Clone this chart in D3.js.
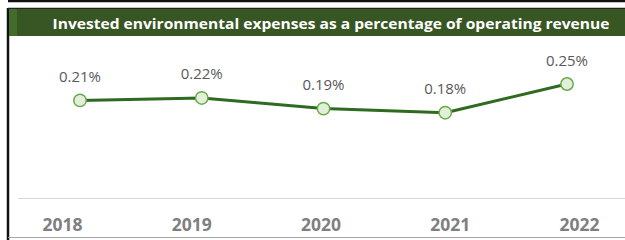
<!DOCTYPE html>
<html>
<head>
<meta charset="utf-8">
<script src="https://cdn.jsdelivr.net/npm/d3@7"></script>
<style>
  html, body { margin: 0; padding: 0; background: #fff; }
  svg { display: block; font-family: 'Open Sans', sans-serif; }
</style>
</head>
<body>
<svg width="625" height="240"></svg>
<script>
const years = ['2018', '2019', '2020', '2021', '2022'];
const values = [0.21, 0.216, 0.19, 0.18, 0.25]; // % of operating revenue
const title = 'Invested environmental expenses as a percentage of operating revenue';

const svg = d3.select('svg');
const width = +svg.attr('width');
const height = +svg.attr('height');

const data = years.map((y, i) => ({ year: y, value: values[i] }));

// frame
svg.append('line')
    .attr('x1', 8).attr('x2', width).attr('y1', 1).attr('y2', 1)
    .attr('stroke', '#111').attr('stroke-width', 2.5);
svg.append('line')
    .attr('x1', 8).attr('x2', 8).attr('y1', 8).attr('y2', height)
    .attr('stroke', '#111').attr('stroke-width', 2.5);
svg.append('line')
    .attr('x1', 8).attr('x2', width).attr('y1', 8.5).attr('y2', 8.5)
    .attr('stroke', '#222').attr('stroke-width', 1.5);
svg.append('line')
    .attr('x1', 8).attr('x2', width).attr('y1', 237.5).attr('y2', 237.5)
    .attr('stroke', '#a6a6a6').attr('stroke-width', 1.2);

// title band
svg.append('rect')
    .attr('x', 9).attr('y', 9).attr('width', width - 9).attr('height', 27)
    .attr('fill', '#375623');
svg.append('rect')
    .attr('x', 9).attr('y', 9).attr('width', 8).attr('height', 27)
    .attr('fill', '#426b2c');
svg.append('text')
    .attr('x', 331).attr('y', 28.5)
    .attr('text-anchor', 'middle')
    .attr('fill', '#fff')
    .attr('font-size', 15)
    .attr('font-weight', 700)
    .attr('textLength', 557)
    .attr('lengthAdjust', 'spacingAndGlyphs')
    .text(title);

// scales
const x = d3.scalePoint().domain(years).range([80, 567]);
const xLabel = d3.scalePoint().domain(years).range([62, 579]);
const y = d3.scaleLinear().domain([0, 0.25]).range([186.5, 84]);

// axis baseline
svg.append('line')
    .attr('x1', 18).attr('x2', width).attr('y1', 198.5).attr('y2', 198.5)
    .attr('stroke', '#d9d9d9').attr('stroke-width', 1.2);

const xAxis = svg.append('g')
    .attr('transform', 'translate(0,230.5)')
    .call(d3.axisBottom(xLabel).tickSize(0).tickPadding(0));
xAxis.select('.domain').remove();
xAxis.selectAll('text')
    .attr('dy', 0)
    .attr('font-family', "'Open Sans', sans-serif")
    .attr('font-size', 17.5)
    .attr('font-weight', 700)
    .attr('fill', '#7f7f7f');

// line
const line = d3.line().x(d => x(d.year)).y(d => y(d.value));
svg.append('path')
    .datum(data)
    .attr('d', line)
    .attr('fill', 'none')
    .attr('stroke', '#2e6a20')
    .attr('stroke-width', 3)
    .attr('stroke-linejoin', 'round');

svg.selectAll('circle.pt').data(data).enter().append('circle')
    .attr('class', 'pt')
    .attr('cx', d => x(d.year))
    .attr('cy', d => y(d.value))
    .attr('r', 6.2)
    .attr('fill', '#e2f0d9')
    .attr('stroke', '#6aaa4b')
    .attr('stroke-width', 1.5);

const fmt = d3.format('.2f');
svg.selectAll('text.lbl').data(data).enter().append('text')
    .attr('class', 'lbl')
    .attr('x', d => x(d.year))
    .attr('y', d => y(d.value) - 18.5)
    .attr('text-anchor', 'middle')
    .attr('font-size', 15)
    .attr('fill', '#595959')
    .text(d => fmt(d.value) + '%');
</script>
</body>
</html>
